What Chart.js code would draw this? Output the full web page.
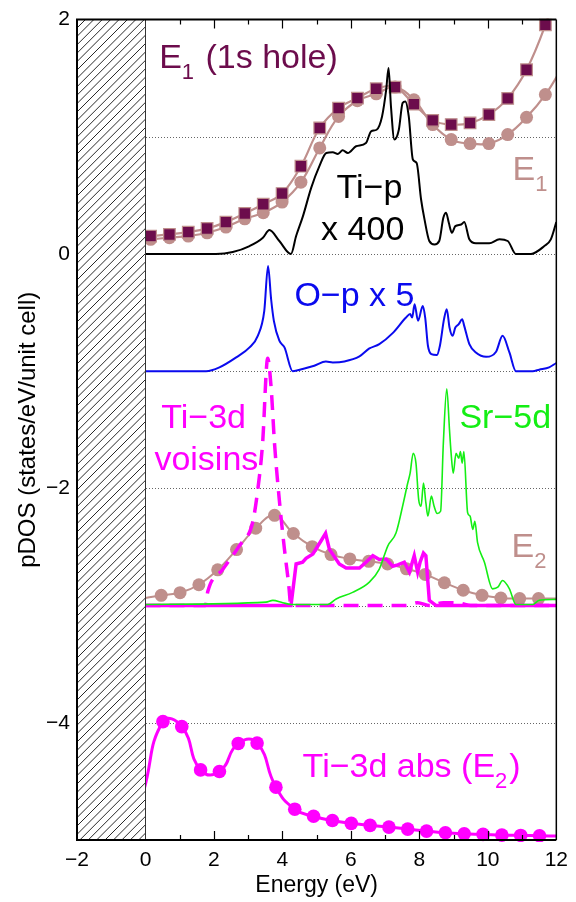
<!DOCTYPE html>
<html lang="en">
<head>
<meta charset="UTF-8">
<title>pDOS</title>
<script src="https://cdn.jsdelivr.net/npm/chart.js"></script>
<style>
  body { margin: 0; background: #fff; }
  #wrap { width: 576px; height: 902px; }
</style>
</head>
<body>
<div id="wrap"><canvas id="dos" width="576" height="902"></canvas></div>
<script>
// E1 absorption with core hole (squares) and without (circles)
const e1Energy = [-0.40, 0.15, 0.70, 1.25, 1.80, 2.35, 2.90, 3.44, 3.99, 4.54, 5.09, 5.64, 6.19, 6.74, 7.29, 7.84, 8.39, 8.93, 9.48, 10.03, 10.58, 11.13, 11.68, 12.23];
const e1Hole = [0.14, 0.153, 0.167, 0.187, 0.218, 0.272, 0.346, 0.425, 0.516, 0.749, 1.075, 1.245, 1.330, 1.410, 1.424, 1.279, 1.140, 1.104, 1.118, 1.189, 1.328, 1.572, 1.955, 2.45];
const e1 = [0.11, 0.125, 0.139, 0.153, 0.181, 0.230, 0.300, 0.352, 0.443, 0.613, 0.905, 1.174, 1.308, 1.367, 1.424, 1.316, 1.104, 0.976, 0.942, 0.942, 1.019, 1.166, 1.360, 1.62];

// Ti-p x 400 (baseline 0)
const tiPEnergy = [0, 2.06, 2.55, 3.04, 3.43, 3.62, 3.91, 4.25, 4.40, 4.60, 4.84, 5.08, 5.28, 5.47, 5.62, 5.76, 5.91, 6.15, 6.44, 6.59, 6.75, 6.91, 7.03, 7.10, 7.17, 7.27, 7.40, 7.51, 7.59, 7.69, 7.81, 7.92, 8.05, 8.15, 8.29, 8.44, 8.58, 8.70, 8.78, 8.86, 8.95, 9.05, 9.22, 9.31, 9.46, 9.65, 10.04, 10.34, 10.58, 10.82, 11.26, 11.65, 11.84, 12.0];
const tiP = [0, 0, 0.017, 0.068, 0.139, 0.204, 0.111, 0, 0.153, 0.323, 0.564, 0.749, 0.862, 0.868, 0.854, 0.885, 0.862, 0.919, 0.947, 1.047, 1.06, 1.174, 1.40, 1.586, 1.26, 0.976, 1.06, 1.288, 1.302, 1.174, 0.806, 0.777, 0.465, 0.295, 0.111, 0.082, 0.111, 0.309, 0.352, 0.266, 0.181, 0.238, 0.252, 0.272, 0.125, 0.091, 0.091, 0.125, 0.111, 0, 0, 0.068, 0.125, 0.272];

// O-p x 5 (baseline -1)
const oPEnergy = [0, 1.77, 2.16, 2.65, 3.04, 3.28, 3.47, 3.58, 3.67, 3.75, 3.91, 4.06, 4.30, 4.59, 4.93, 5.27, 5.47, 5.81, 6.25, 6.54, 6.83, 7.22, 7.61, 7.73, 7.79, 7.86, 7.96, 8.10, 8.17, 8.25, 8.35, 8.51, 8.60, 8.72, 8.80, 8.88, 8.97, 9.05, 9.15, 9.25, 9.31, 9.46, 9.65, 9.95, 10.24, 10.43, 10.63, 10.82, 11.31, 11.50, 11.79, 12.0];
const oP = [-1, -1, -0.967, -0.882, -0.797, -0.698, -0.485, -0.102, -0.386, -0.570, -0.740, -0.797, -1.0, -0.981, -0.953, -0.917, -0.925, -0.917, -0.874, -0.806, -0.769, -0.675, -0.542, -0.513, -0.542, -0.428, -0.570, -0.443, -0.542, -0.783, -0.854, -0.862, -0.783, -0.556, -0.471, -0.627, -0.698, -0.627, -0.599, -0.556, -0.613, -0.769, -0.840, -0.877, -0.834, -0.698, -0.840, -1.0, -1.0, -0.987, -0.967, -0.930];

// Sr-5d (baseline -3)
const srEnergy = [0, 3.52, 3.72, 4.01, 4.25, 5.32, 5.57, 6.05, 6.54, 6.83, 7.08, 7.32, 7.51, 7.66, 7.73, 7.82, 7.90, 7.98, 8.05, 8.12, 8.19, 8.25, 8.35, 8.43, 8.52, 8.62, 8.70, 8.80, 8.88, 8.92, 8.99, 9.07, 9.15, 9.20, 9.25, 9.30, 9.41, 9.48, 9.56, 9.62, 9.70, 9.90, 10.14, 10.29, 10.43, 10.63, 10.82, 11.31, 11.50, 11.99];
const sr5d = [-2.99, -2.97, -2.955, -2.975, -2.99, -2.99, -2.943, -2.887, -2.80, -2.688, -2.49, -2.378, -2.152, -1.954, -1.87, -1.70, -1.785, -2.095, -2.152, -1.954, -2.124, -2.236, -2.066, -2.152, -2.214, -2.195, -1.616, -1.15, -1.50, -1.673, -1.87, -1.70, -1.743, -1.686, -1.785, -1.686, -2.208, -2.236, -2.35, -2.28, -2.462, -2.63, -2.857, -2.843, -2.786, -2.857, -2.99, -2.99, -2.955, -2.947];

// Ti-3d of the absorbing site (solid) and of the neighbours (dashed)
const ti3dEnergy = [0, 4.20, 4.25, 4.40, 4.59, 4.69, 4.89, 5.13, 5.26, 5.37, 5.66, 5.86, 6.25, 6.44, 6.64, 6.83, 7.03, 7.22, 7.37, 7.56, 7.71, 7.85, 7.95, 8.02, 8.12, 8.19, 8.29, 8.49, 12.0];
const ti3d = [-3.0, -3.0, -3.0, -2.645, -2.63, -2.597, -2.56, -2.447, -2.383, -2.518, -2.645, -2.679, -2.679, -2.63, -2.574, -2.607, -2.602, -2.664, -2.653, -2.63, -2.714, -2.574, -2.714, -2.63, -2.552, -2.574, -2.955, -3.0, -3.0];
const voisinsEnergy = [0, 1.75, 1.82, 2.26, 2.74, 3.13, 3.28, 3.42, 3.57, 3.67, 3.77, 3.91, 4.06, 4.18, 4.25, 7.60, 7.95, 8.30, 8.70, 9.20, 9.50, 12.0];
const voisins = [-3.0, -3.0, -2.88, -2.69, -2.49, -2.29, -2.01, -1.62, -0.89, -1.14, -1.62, -2.10, -2.52, -2.81, -3.0, -3.0, -2.975, -3.0, -2.975, -2.98, -3.0, -3.0];

// E2 absorption (circles)
const e2Energy = [-0.09, 0.46, 1.01, 1.56, 2.11, 2.66, 3.22, 3.77, 4.32, 4.87, 5.42, 5.97, 6.52, 7.07, 7.62, 8.17, 8.73, 9.28, 9.83, 10.38, 10.93, 11.48, 12.03];
const e2 = [-2.94, -2.912, -2.890, -2.822, -2.695, -2.522, -2.339, -2.230, -2.385, -2.497, -2.565, -2.602, -2.622, -2.645, -2.686, -2.734, -2.805, -2.869, -2.912, -2.935, -2.940, -2.940, -2.94];

// Ti-3d absorption (E2)
const absEnergy = [-0.05, 0.51, 1.06, 1.61, 2.16, 2.71, 3.26, 3.81, 4.36, 4.91, 5.46, 6.01, 6.56, 7.11, 7.66, 8.21, 8.76, 9.31, 9.86, 10.41, 10.96, 11.51, 12.06];
const abs = [-4.58, -3.990, -4.033, -4.402, -4.416, -4.176, -4.173, -4.549, -4.737, -4.797, -4.834, -4.858, -4.875, -4.890, -4.907, -4.924, -4.938, -4.947, -4.952, -4.958, -4.961, -4.964, -4.966];

const xTicks = [-2, 0, 2, 4, 6, 8, 10, 12];
const yTickLabels = [2, 0, -2, -4];

const MAROON = '#6c0c4c';
const ROSY = '#bf8f8c';
const MAGENTA = '#ff00ff';
const GREEN = '#14ee14';
const BLUE = '#0a0aee';
const FONT = "'Liberation Sans', Arial, sans-serif";

const pts = (xs, ys) => xs.map((x, i) => ({ x: x, y: ys[i] }));
const inside = r => (c) => (c.raw && c.raw.x >= 0 && c.raw.x <= 12 ? r : 0);
const edgeClip = { left: 0, top: 1, right: 0, bottom: 2 };

// free-floating curve labels, placed in data units
const notes = [
  { x: 0.40, y: 1.585, color: MAROON, parts: [['E'], ['1', true], [' (1s hole)']] },
  { x: 10.72, y: 0.629, color: ROSY, parts: [['E'], ['1', true]] },
  { x: 5.58, y: 0.477, color: '#000', parts: [['Ti\u2212p']] },
  { x: 5.13, y: 0.121, color: '#000', parts: [['x 400']] },
  { x: 4.35, y: -0.444, color: BLUE, parts: [['O\u2212p x 5']] },
  { x: 0.46, y: -1.487, color: MAGENTA, parts: [['Ti\u22123d']] },
  { x: 0.26, y: -1.84, color: MAGENTA, parts: [['voisins']] },
  { x: 9.17, y: -1.487, color: GREEN, parts: [['Sr\u22125d']] },
  { x: 10.69, y: -2.588, color: ROSY, parts: [['E'], ['2', true]] },
  { x: 4.59, y: -4.464, color: MAGENTA, parts: [['Ti\u22123d abs (E'], ['2', true], [')']] }
];

const decorations = {
  id: 'decorations',
  beforeDatasetsDraw(chart) {
    const { ctx, chartArea: a, scales: { y } } = chart;
    ctx.save();
    ctx.strokeStyle = '#666';
    ctx.lineWidth = 1;
    ctx.setLineDash([1, 2]);
    for (let v = -4; v <= 1; v++) {
      const py = Math.round(y.getPixelForValue(v)) + 0.5;
      ctx.beginPath();
      ctx.moveTo(a.left, py);
      ctx.lineTo(a.right, py);
      ctx.stroke();
    }
    ctx.restore();
  },
  afterDatasetsDraw(chart) {
    // hatched gap below E = 0
    const { ctx, chartArea: a, scales: { x } } = chart;
    const x0 = x.getPixelForValue(0);
    const h = a.bottom - a.top;
    ctx.save();
    ctx.fillStyle = '#fff';
    ctx.fillRect(a.left, a.top, x0 - a.left, h);
    ctx.beginPath();
    ctx.rect(a.left, a.top, x0 - a.left, h);
    ctx.clip();
    ctx.strokeStyle = '#111';
    ctx.lineWidth = 0.9;
    ctx.beginPath();
    for (let s = a.left - h; s < x0 + 10; s += 8.4) {
      ctx.moveTo(s, a.bottom);
      ctx.lineTo(s + h, a.top);
    }
    ctx.stroke();
    ctx.restore();

    ctx.save();
    ctx.strokeStyle = '#333';
    ctx.lineWidth = 1;
    ctx.beginPath();
    ctx.moveTo(Math.round(x0) + 0.5, a.top);
    ctx.lineTo(Math.round(x0) + 0.5, a.bottom);
    ctx.stroke();
    ctx.restore();
  },
  afterDraw(chart) {
    const { ctx, chartArea: a, scales: { x, y } } = chart;
    ctx.save();
    // inner tick marks on top and bottom edges
    ctx.strokeStyle = '#000';
    ctx.lineWidth = 1.2;
    ctx.beginPath();
    for (let v = 1; v <= 11; v++) {
      const px = Math.round(x.getPixelForValue(v)) + 0.5;
      const len = v % 2 === 0 ? 9 : 5;
      ctx.moveTo(px, a.bottom);
      ctx.lineTo(px, a.bottom - len);
      ctx.moveTo(px, a.top);
      ctx.lineTo(px, a.top + len);
    }
    ctx.stroke();

    // frame
    ctx.lineWidth = 2;
    ctx.beginPath();
    ctx.moveTo(a.left, a.top);
    ctx.lineTo(a.right, a.top);
    ctx.moveTo(a.left, a.bottom);
    ctx.lineTo(a.right, a.bottom);
    ctx.moveTo(a.left, a.top - 1);
    ctx.lineTo(a.left, a.bottom + 1);
    ctx.stroke();
    ctx.lineWidth = 1.5;
    ctx.beginPath();
    ctx.moveTo(a.right, a.top);
    ctx.lineTo(a.right, a.bottom);
    ctx.stroke();

    // curve labels with subscripts
    ctx.textBaseline = 'alphabetic';
    ctx.textAlign = 'left';
    notes.forEach(n => {
      let px = x.getPixelForValue(n.x);
      const py = y.getPixelForValue(n.y);
      ctx.fillStyle = n.color;
      n.parts.forEach(([t, sub]) => {
        ctx.font = sub ? `22px ${FONT}` : `34px ${FONT}`;
        ctx.fillText(t, px, sub ? py + 11 : py);
        px += ctx.measureText(t).width + (sub ? 2 : 0);
      });
    });
    ctx.restore();
  }
};

const ctx = document.getElementById('dos').getContext('2d');
new Chart(ctx, {
  type: 'line',
  data: {
    datasets: [
      {
        label: 'Ti-p x 400',
        data: pts(tiPEnergy, tiP),
        borderColor: '#000',
        borderWidth: 2,
        pointRadius: 0,
        cubicInterpolationMode: 'monotone',
        clip: edgeClip
      },
      {
        label: 'E1 (1s hole)',
        data: pts(e1Energy, e1Hole),
        borderColor: ROSY,
        borderWidth: 2.2,
        tension: 0.4,
        pointStyle: 'rect',
        pointRadius: inside(8.2),
        pointBackgroundColor: MAROON,
        pointBorderColor: ROSY,
        pointBorderWidth: 1.2,
        clip: edgeClip
      },
      {
        label: 'E1',
        data: pts(e1Energy, e1),
        borderColor: ROSY,
        borderWidth: 2.2,
        tension: 0.4,
        pointRadius: inside(6.5),
        pointBackgroundColor: ROSY,
        pointBorderColor: ROSY,
        pointBorderWidth: 0,
        clip: edgeClip
      },
      {
        label: 'O-p x 5',
        data: pts(oPEnergy, oP),
        borderColor: BLUE,
        borderWidth: 2,
        pointRadius: 0,
        cubicInterpolationMode: 'monotone',
        clip: edgeClip
      },
      {
        label: 'Sr-5d',
        data: pts(srEnergy, sr5d),
        borderColor: GREEN,
        borderWidth: 1.6,
        pointRadius: 0,
        cubicInterpolationMode: 'monotone',
        clip: edgeClip
      },
      {
        label: 'Ti-3d',
        data: pts(ti3dEnergy, ti3d),
        borderColor: MAGENTA,
        borderWidth: 3.5,
        pointRadius: 0,
        tension: 0,
        clip: edgeClip
      },
      {
        label: 'Ti-3d voisins',
        data: pts(voisinsEnergy, voisins),
        borderColor: MAGENTA,
        borderWidth: 3.5,
        borderDash: [15, 9],
        pointRadius: 0,
        cubicInterpolationMode: 'monotone',
        clip: edgeClip
      },
      {
        label: 'E2',
        data: pts(e2Energy, e2),
        borderColor: ROSY,
        borderWidth: 2,
        tension: 0.4,
        pointRadius: inside(6.5),
        pointBackgroundColor: ROSY,
        pointBorderWidth: 0,
        clip: edgeClip
      },
      {
        label: 'Ti-3d abs (E2)',
        data: pts(absEnergy, abs),
        borderColor: MAGENTA,
        borderWidth: 3,
        tension: 0.5,
        pointRadius: inside(6.8),
        pointBackgroundColor: MAGENTA,
        pointBorderWidth: 0,
        clip: edgeClip
      }
    ]
  },
  options: {
    responsive: false,
    animation: false,
    events: [],
    layout: { padding: { left: 0, right: 19, top: 13, bottom: 0 } },
    plugins: { legend: { display: false }, tooltip: { enabled: false } },
    scales: {
      x: {
        type: 'linear',
        min: -2,
        max: 12,
        afterBuildTicks: s => { s.ticks = xTicks.map(v => ({ value: v })); },
        afterFit: s => { s.height = 62; },
        grid: { display: false, drawTicks: false },
        border: { display: false },
        ticks: {
          color: '#000',
          padding: 8,
          maxRotation: 0,
          font: { family: FONT, size: 21 },
          callback: v => String(v).replace('-', '\u2212')
        },
        title: {
          display: true,
          text: 'Energy (eV)',
          color: '#000',
          font: { family: FONT, size: 23 },
          padding: { top: 0, bottom: 3 }
        }
      },
      y: {
        type: 'linear',
        min: -5,
        max: 2,
        afterBuildTicks: s => { s.ticks = yTickLabels.map(v => ({ value: v })); },
        afterFit: s => { s.width = 77; },
        grid: { display: false, drawTicks: false },
        border: { display: false },
        ticks: {
          color: '#000',
          padding: 7,
          font: { family: FONT, size: 21 },
          callback: v => String(v).replace('-', '\u2212')
        },
        title: {
          display: true,
          text: 'pDOS (states/eV/unit cell)',
          color: '#000',
          font: { family: FONT, size: 24 },
          padding: { top: 14, bottom: 0 }
        }
      }
    }
  },
  plugins: [decorations]
});
</script>
</body>
</html>
